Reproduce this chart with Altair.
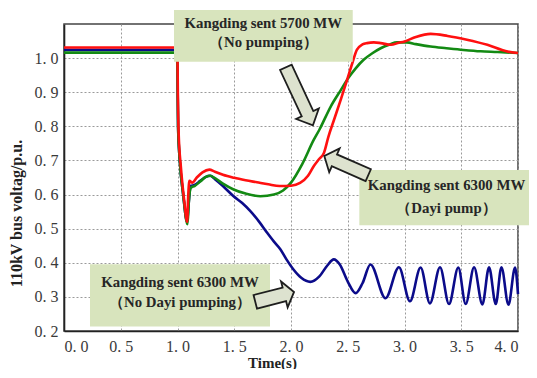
import altair as alt
import pandas as pd

# ---------------- data ----------------
t_red = [0.0, 0.995, 1.0, 1.003, 1.01, 1.03, 1.06, 1.085, 1.095, 1.105, 1.13, 1.17, 1.22, 1.28,
         1.33, 1.4, 1.5, 1.6, 1.7, 1.8, 1.9, 2.0, 2.08, 2.15, 2.2, 2.25, 2.29, 2.33, 2.38, 2.44,
         2.495, 2.54, 2.58, 2.63, 2.67, 2.73, 2.79, 2.88, 2.95, 3.0, 3.1, 3.23, 3.38, 3.55, 3.73,
         3.91, 4.0]
v_red = [1.031, 1.031, 1.0, 0.90, 0.78, 0.68, 0.58, 0.52, 0.60, 0.64, 0.635, 0.65, 0.665, 0.673,
         0.667, 0.658, 0.649, 0.642, 0.636, 0.630, 0.625, 0.626, 0.634, 0.655, 0.683, 0.705, 0.722,
         0.77, 0.82, 0.88, 0.937, 0.985, 1.024, 1.04, 1.044, 1.046, 1.044, 1.039, 1.045, 1.049,
         1.062, 1.071, 1.065, 1.054, 1.039, 1.019, 1.015]

t_green = [0.0, 0.995, 1.0, 1.005, 1.02, 1.05, 1.088, 1.1, 1.118, 1.15, 1.2, 1.25, 1.289, 1.33,
           1.4, 1.494, 1.6, 1.73, 1.85, 1.93, 2.0, 2.1, 2.2, 2.25, 2.35, 2.44, 2.495, 2.57, 2.64,
           2.72, 2.79, 2.87, 2.935, 3.02, 3.1, 3.23, 3.37, 3.52, 3.67, 3.82, 4.0]
v_green = [1.016, 1.016, 0.95, 0.80, 0.70, 0.60, 0.513, 0.58, 0.62, 0.625, 0.638, 0.652, 0.655,
           0.648, 0.632, 0.615, 0.603, 0.595, 0.60, 0.612, 0.635, 0.69, 0.76, 0.79, 0.858, 0.907,
           0.937, 0.97, 0.995, 1.015, 1.029, 1.04, 1.046, 1.046, 1.041, 1.034, 1.029, 1.024, 1.02,
           1.018, 1.015]

t_blue = [0.0, 0.995, 1.0, 1.005, 1.02, 1.05, 1.085, 1.1, 1.115, 1.15, 1.2, 1.25, 1.289, 1.33,
          1.4, 1.494, 1.57, 1.64, 1.72, 1.79, 1.85, 1.906, 1.96, 2.02, 2.09, 2.17, 2.25, 2.32,
          2.377, 2.43, 2.5, 2.57, 2.63, 2.70, 2.833, 2.951, 3.048, 3.142, 3.224, 3.313, 3.392,
          3.474, 3.539, 3.613, 3.686, 3.745, 3.804, 3.854, 3.916, 3.974, 4.0]
v_blue = [1.024, 1.024, 0.95, 0.80, 0.70, 0.60, 0.52, 0.58, 0.625, 0.628, 0.64, 0.652, 0.655,
          0.645, 0.625, 0.595, 0.575, 0.552, 0.52, 0.488, 0.462, 0.44, 0.41, 0.381, 0.356, 0.344,
          0.36, 0.392, 0.41, 0.395, 0.345, 0.311, 0.34, 0.395, 0.296, 0.387, 0.287, 0.386, 0.281,
          0.387, 0.279, 0.386, 0.279, 0.387, 0.278, 0.387, 0.279, 0.387, 0.277, 0.386, 0.308]

x_ticks = [0.0, 0.5, 1.0, 1.5, 2.0, 2.5, 3.0, 3.5, 4.0]
y_ticks = [0.2, 0.3, 0.4, 0.5, 0.6, 0.7, 0.8, 0.9, 1.0]

# annotation boxes (data coordinates) and their two text lines
box_x0 = [0.969, 2.602, 0.229]
box_x1 = [2.544, 4.132, 1.815]
box_y0 = [0.989, 0.510, 0.213]
box_y1 = [1.141, 0.672, 0.396]
note_x = [1.756, 1.756, 3.37, 3.37, 1.022, 1.022]
note_y = [1.100, 1.043, 0.625, 0.557, 0.342, 0.281]
note_text = ["Kangding sent 5700 MW", "（No pumping）",
             "Kangding sent 6300 MW", "（Dayi pump）",
             "Kangding sent 6300 MW", "（No Dayi pumping）"]

# block arrows: centre, length (px) and direction (deg, clockwise)
arrow_x = [2.074, 2.487, 1.856]
arrow_y = [0.888, 0.685, 0.300]
arrow_len = [64, 48, 40]
arrow_angle = [65, 203.7, 345.7]
arrow_shape = [
    "M -1 -0.2 L 0.6 -0.2 L 0.6 -0.39 L 1 0 L 0.6 0.39 L 0.6 0.2 L -1 0.2 Z",
    "M -1 -0.27 L 0.54 -0.27 L 0.54 -0.54 L 1 0 L 0.54 0.54 L 0.54 0.27 L -1 0.27 Z",
    "M -1 -0.35 L 0.5 -0.35 L 0.5 -0.67 L 1 0 L 0.5 0.67 L 0.5 0.35 L -1 0.35 Z",
]

# ---------------- chart ----------------
SERIF = "Liberation Serif"
XS = alt.Scale(domain=[0, 4], nice=False, zero=False)
YS = alt.Scale(domain=[0.2, 1.1], nice=False, zero=False)
LBL = "replace(format(datum.value, '.1f'), '.', '. ')"

XA = alt.Axis(values=x_ticks, labelExpr=LBL, grid=True, ticks=False, labelPadding=7,
              titleX=208, titleY=31, titleBaseline="middle", titleAnchor="start", titleAlign="center",
              titleFontSize=15)
YA = alt.Axis(values=y_ticks, labelExpr=LBL, grid=True, ticks=False, labelPadding=6,
              titleX=-48, titleY=189, titleAngle=270, titleAlign="center",
              titleBaseline="middle", titleAnchor="start", titleFontSize=16)


def X(field):
    return alt.X(f"{field}:Q", scale=XS, axis=XA, title="Time(s)")


def Y(field):
    return alt.Y(f"{field}:Q", scale=YS, axis=YA, title="110kV bus voltag/p.u.")


def line(ts, vs, color):
    df = pd.DataFrame({"t": ts, "v": vs})
    return alt.Chart(df).mark_line(color=color, strokeWidth=2.6, interpolate="monotone").encode(
        x=X("t"), y=Y("v"))


lines = [line(t_blue, v_blue, "#0b0b8a"), line(t_green, v_green, "#138a13"),
         line(t_red, v_red, "#ff1010")]

boxes_df = pd.DataFrame({"x0": box_x0, "x1": box_x1, "y0": box_y0, "y1": box_y1})
boxes = alt.Chart(boxes_df).mark_rect(color="#d8e4bd").encode(
    x=X("x0"), x2="x1", y=Y("y0"), y2="y1")

arrows = []
for ax, ay, al, aa, sh in zip(arrow_x, arrow_y, arrow_len, arrow_angle, arrow_shape):
    adf = pd.DataFrame({"t": [ax], "v": [ay]})
    arrows.append(alt.Chart(adf).mark_point(
        shape=sh, size=al * al, angle=aa, filled=True, fill="#dde2cf", stroke="#1e1e1e",
        strokeWidth=1.8, opacity=1, strokeJoin="miter").encode(x=X("t"), y=Y("v")))

notes_df = pd.DataFrame({"t": note_x, "v": note_y, "label": note_text})
notes = alt.Chart(notes_df).mark_text(font=SERIF, fontWeight="bold", fontSize=14.8,
                                      color="#262626", align="center", baseline="middle").encode(
    x=X("t"), y=Y("v"), text="label:N")

chart = alt.layer(*lines, boxes, *arrows, notes).properties(
    width=454, height=307,
    autosize=alt.AutoSizeParams(type="none"),
    padding={"left": 56, "top": 16, "right": 11, "bottom": 38},
).configure_view(stroke="#444444", strokeWidth=1.5).configure_axis(
    labelFont=SERIF, labelFontSize=16, labelColor="#3a3a3a",
    gridColor="#9a9a9a", gridDash=[2, 2], gridWidth=1,
    domainColor="#222222", domainWidth=1.6,
    titleFont=SERIF, titleFontWeight="bold", titleColor="#222222",
)

chart.save("out.html", embed_options={"renderer": "svg", "actions": False})
